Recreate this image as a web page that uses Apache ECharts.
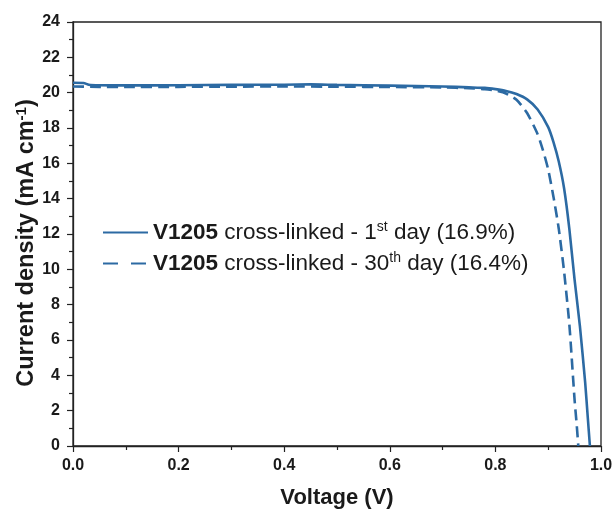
<!DOCTYPE html>
<html><head><meta charset="utf-8">
<script src="https://cdn.jsdelivr.net/npm/echarts@6/dist/echarts.min.js"></script>
<style>html,body{margin:0;padding:0;background:#fff}#c{width:613px;height:514px}</style>
</head><body><div id="c"></div>
<script>
const voltage1 = [0, 0.02, 0.03, 0.05, 0.1, 0.2, 0.3, 0.4, 0.45, 0.5, 0.6, 0.7, 0.75, 0.78, 0.8, 0.82, 0.84, 0.86, 0.88, 0.9, 0.91, 0.92, 0.93, 0.94, 0.95, 0.96, 0.97, 0.975, 0.979];
const current1 = [20.56, 20.55, 20.45, 20.42, 20.41, 20.42, 20.44, 20.45, 20.47, 20.44, 20.4, 20.35, 20.3, 20.27, 20.2, 20.1, 19.92, 19.62, 19.05, 18.05, 17.2, 16.1, 14.6, 12.3, 9.4, 6.8, 3.6, 1.6, 0];
const voltage30 = [0, 0.05, 0.1, 0.2, 0.3, 0.4, 0.5, 0.6, 0.7, 0.75, 0.78, 0.8, 0.82, 0.84, 0.86, 0.88, 0.89, 0.9, 0.91, 0.92, 0.93, 0.94, 0.95, 0.954, 0.957];
const current30 = [20.35, 20.33, 20.32, 20.33, 20.34, 20.35, 20.34, 20.32, 20.3, 20.25, 20.2, 20.12, 19.95, 19.6, 18.85, 17.65, 16.75, 15.65, 14.1, 12.3, 9.9, 6.9, 2.6, 1.2, 0];
const seriesNames = ['{b|V1205} cross-linked - 1{s|st} day (16.9%)', '{b|V1205} cross-linked - 30{s|th} day (16.4%)'];
const xTicks = [0, 0.2, 0.4, 0.6, 0.8, 1.0];

const color = '#2c6aa3';
const txt = '#1a1a1a';
const font = 'Liberation Sans, Arial, sans-serif';
const chart = echarts.init(document.getElementById('c'), null, {renderer: 'canvas'});
const pair = (xs, ys) => xs.map((x, i) => [x, ys[i]]);
chart.setOption({
  animation: false,
  textStyle: {fontFamily: font},
  grid: {left: 73, right: 12, top: 22, bottom: 68, outerBoundsMode: 'none', containLabel: false,
    show: true, borderColor: '#222', borderWidth: 1.3, backgroundColor: 'transparent'},
  legend: {
    orient: 'vertical', left: 97, top: 215, itemWidth: 45, itemHeight: 14, itemGap: 6,
    itemStyle: {opacity: 0},
    data: [{name: seriesNames[0]}, {name: seriesNames[1], lineStyle: {type: [15, 13]}}],
    textStyle: {
      fontSize: 22.5, color: txt, fontFamily: font, lineHeight: 25,
      rich: {
        b: {fontSize: 22.5, fontWeight: 'bold', color: txt, fontFamily: font, lineHeight: 25},
        s: {fontSize: 14, color: txt, fontFamily: font, verticalAlign: 'top', padding: [0, 0, 12, 0]}
      }
    }
  },
  xAxis: {
    type: 'value', min: 0, max: 1, interval: 0.2,
    name: 'Voltage (V)', nameLocation: 'middle', nameGap: 41, nameMoveOverlap: false,
    nameTextStyle: {fontSize: 22, fontWeight: 'bold', color: txt, fontFamily: font},
    axisLine: {onZero: false, lineStyle: {color: '#222', width: 1.3}},
    axisTick: {show: true, length: 6, inside: false, lineStyle: {color: '#222', width: 1.2}},
    minorTick: {show: true, splitNumber: 2, length: 4, lineStyle: {color: '#222', width: 1.2}},
    splitLine: {show: false},
    axisLabel: {fontSize: 16, fontWeight: 'bold', color: txt, margin: 12, fontFamily: font,
      formatter: v => xTicks.some(t => Math.abs(t - v) < 1e-9) ? v.toFixed(1) : ''}
  },
  yAxis: {
    type: 'value', min: 0, max: 24, interval: 2,
    name: 'Current density (mA cm{s|-1})', nameLocation: 'middle', nameGap: 33, nameMoveOverlap: false,
    nameTextStyle: {fontSize: 23.5, fontWeight: 'bold', color: txt, fontFamily: font, padding: [0, 18, 0, 0],
      rich: {s: {fontSize: 15, fontWeight: 'bold', color: txt, fontFamily: font, verticalAlign: 'top', padding: [0, 0, 11, 0]}}},
    axisLine: {show: true, onZero: false, lineStyle: {color: '#222', width: 1.3}},
    axisTick: {show: true, length: 6, inside: false, lineStyle: {color: '#222', width: 1.2}},
    minorTick: {show: true, splitNumber: 2, length: 4, lineStyle: {color: '#222', width: 1.2}},
    splitLine: {show: false},
    axisLabel: {fontSize: 16, fontWeight: 'bold', color: txt, margin: 13, fontFamily: font}
  },
  series: [
    {name: seriesNames[0], type: 'line', data: pair(voltage1, current1), symbol: 'none',
      smooth: 0.2, color: color, lineStyle: {color: color, width: 2.6, type: 'solid'}},
    {name: seriesNames[1], type: 'line', data: pair(voltage30, current30), symbol: 'none',
      smooth: 0.2, color: color, lineStyle: {color: color, width: 2.6, type: [11, 6]}}
  ]
});
</script></body></html>
